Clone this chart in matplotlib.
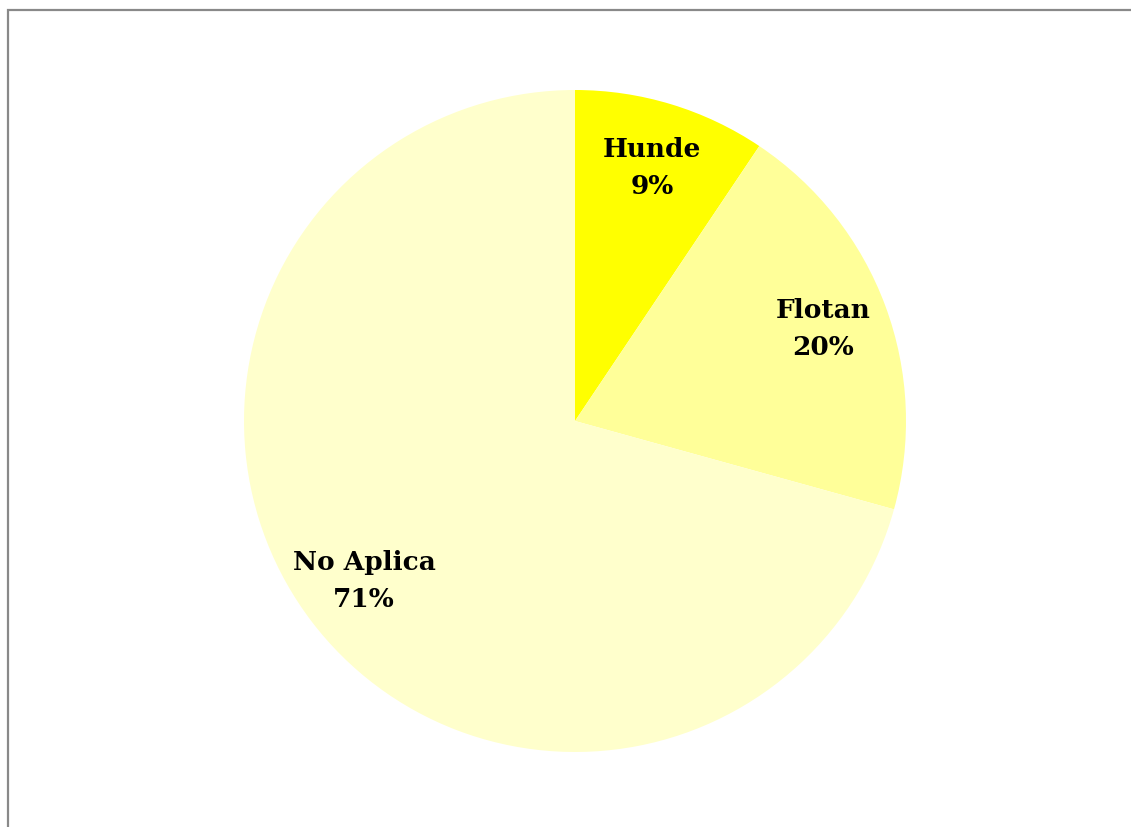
import matplotlib.pyplot as plt
from matplotlib.patches import Rectangle

labels = ['Hunde', 'Flotan', 'No Aplica']
values = [9.4, 19.9, 70.7]
colors = ['#FFFF00', '#FFFF99', '#FFFFCC']

W, H = 1131, 827
fig = plt.figure(figsize=(W / 100, H / 100), dpi=100)

# gray frame, right and bottom edges fall off the picture
fig.patches.append(Rectangle((7.5 / W, -0.05), 1.1, 1 - 9.5 / H + 0.05,
                             transform=fig.transFigure, fill=False,
                             edgecolor='#898989', linewidth=1.6))

cx, cy, r = 575, 421, 331
ax = fig.add_axes([(cx - r) / W, (H - cy - r) / H, 2 * r / W, 2 * r / H])

names = iter(labels)
wedges, texts, autotexts = ax.pie(values, colors=colors, startangle=90, counterclock=False,
                                  autopct=lambda p: '%s\n%d%%' % (next(names), round(p)),
                                  pctdistance=0.8,
                                  textprops=dict(family='DejaVu Serif', fontweight='bold',
                                                 fontsize=19, color='black'))
for t in autotexts:
    t.set_ha('center')
    t.set_va('center')
    t.set_linespacing(1.6)
ax.set_xlim(-1, 1)
ax.set_ylim(-1, 1)
ax.set_aspect('equal')

fig.savefig('out.png', dpi=100)
